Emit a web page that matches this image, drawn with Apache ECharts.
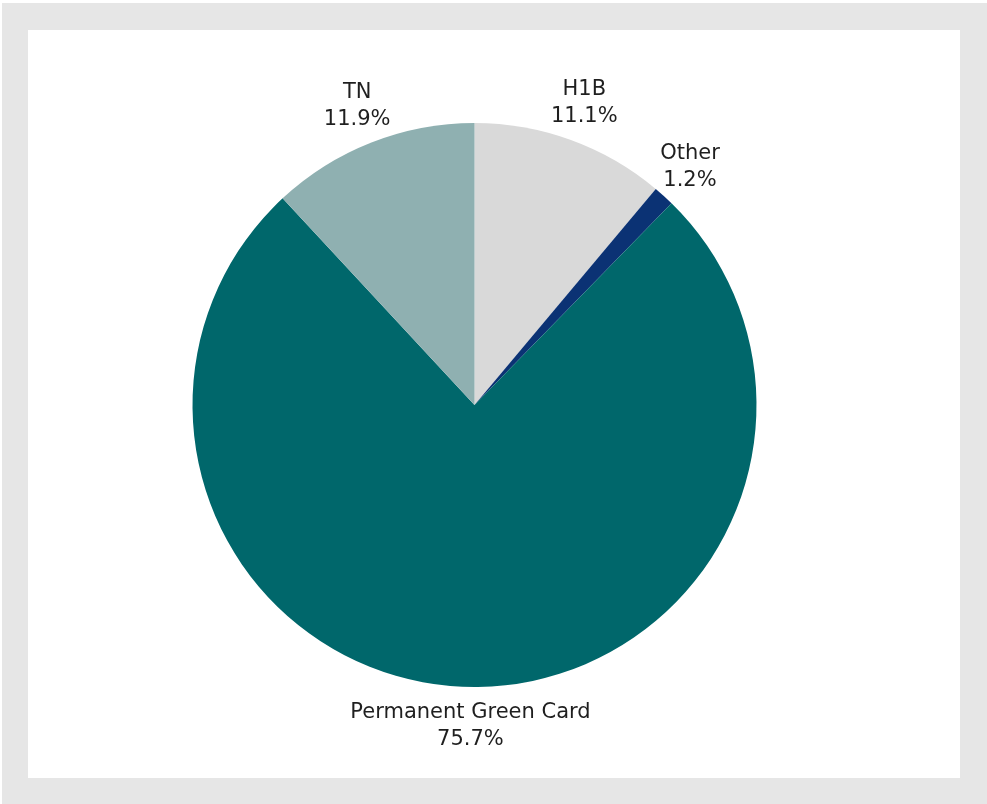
<!DOCTYPE html>
<html>
<head>
<meta charset="utf-8">
<script src="https://cdn.jsdelivr.net/npm/echarts@6/dist/echarts.min.js"></script>
<style>
  html, body { margin: 0; padding: 0; background: #fff; }
  #frame { position: absolute; left: 2px; top: 3px; width: 985px; height: 801px; background: #e6e6e6; }
  #inner { position: absolute; left: 28px; top: 30px; width: 932px; height: 748px; background: #fff; }
  #main { position: absolute; left: 0; top: 0; width: 987px; height: 804px; }
</style>
</head>
<body>
<div id="frame"></div>
<div id="inner"></div>
<div id="main"></div>
<script>
  let names = ['H1B', 'Other', 'Permanent Green Card', 'TN'];
  let values = [11.1, 1.2, 75.7, 11.9];
  let colors = ['#d9d9d9', '#0b3274', '#00676b', '#8fb0b1'];

  let myChart = echarts.init(document.getElementById('main'));
  let data = names.map(function (n, i) {
    return { name: n, value: values[i], itemStyle: { color: colors[i] } };
  });

  let option = {
    animation: false,
    series: [{
      type: 'pie',
      center: [474.5, 405],
      radius: [0, 282],
      startAngle: 90,
      clockwise: true,
      data: data,
      label: { show: false },
      labelLine: { show: false },
      itemStyle: { borderWidth: 0 }
    }, {
      // transparent ring only used to place the labels
      type: 'pie',
      center: [474.5, 405],
      radius: [282, 354],
      startAngle: 90,
      clockwise: true,
      silent: true,
      data: names.map(function (n, i) {
        return { name: n, value: values[i], itemStyle: { color: 'rgba(0,0,0,0)' } };
      }),
      label: {
        show: true,
        position: 'inside',
        formatter: function (p) { return p.name + '\n' + p.value.toFixed(1) + '%'; },
        color: '#1f1f1f',
        fontFamily: 'DejaVu Sans',
        fontSize: 21,
        lineHeight: 27,
        align: 'center'
      },
      labelLine: { show: false }
    }]
  };

  myChart.setOption(option);
  window.addEventListener('resize', function () {
    myChart.resize();
  });
</script>
</body>
</html>
